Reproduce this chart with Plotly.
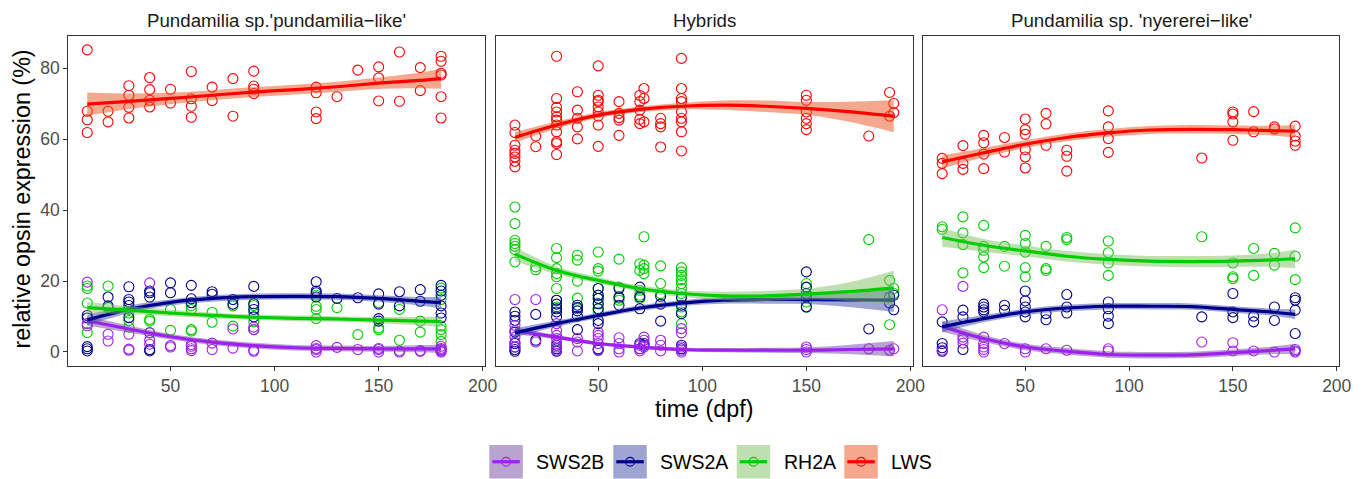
import plotly.graph_objects as go

# page geometry: the page body adds an 8px margin, so the figure is placed at (8, 8)
PAGE_W, PAGE_H, OFF = 1369, 479, 8
W, H = PAGE_W - OFF, PAGE_H - OFF

# ---------------- data ----------------
OPSINS = ["SWS2B", "SWS2A", "RH2A", "LWS"]
PANEL_TITLES = ["Pundamilia sp.'pundamilia\u2212like'", "Hybrids", "Pundamilia sp. 'nyererei\u2212like'"]
X_TICKS = [50, 100, 150, 200]
Y_TICKS = [0, 20, 40, 60, 80]

# Panel 1: pundamilia-like
P1_DAYS = [10, 20, 30, 40, 50, 60, 70, 80, 90, 120, 130, 140, 150, 160, 170, 180]
P1_LWS = [[85.2, 67.9, 65.5, 61.9], [67.9, 64.9], [75.1, 72.4, 69.0, 66.0], [77.4, 74.0, 71.0, 69.1],
          [74.1, 70.2], [79.1, 71.4, 69.3, 66.2], [74.7, 70.9], [77.1, 66.5], [79.2, 75.0, 74.1, 72.9],
          [74.7, 73.1, 67.7, 65.8], [72.0], [79.5], [80.4, 77.3, 70.8], [84.6, 70.7], [80.2, 73.7],
          [83.4, 82.0, 78.6, 78.1, 72.0, 66.0]]
P1_SWS2A = [[10.3, 9.6, 1.5, 0.9, 0.3], [15.5, 13.0], [18.4, 14.8, 14.1, 13.1, 9.7], [17.2, 16.7, 15.5, 0.7, 0.3],
            [19.5, 16.7], [18.8, 15.0, 13.9], [17.0, 16.3], [14.8, 13.5], [18.5, 13.6, 12.0, 9.9],
            [19.8, 17.2, 16.7, 15.5], [15.1], [15.3], [16.4, 13.5, 9.4, 8.7], [17.0, 13.0], [17.6, 14.3],
            [18.8, 17.2, 16.0, 13.0, 11.0, 9.6]]
P1_RH2A = [[18.6, 17.9, 13.8, 5.5], [18.6, 12.5], [12.0, 11.0, 8.9, 7.0], [9.2, 8.7, 5.5], [12.0, 6.1],
           [13.1, 12.0, 6.3, 5.9], [11.2, 8.4], [13.0, 7.3], [13.1, 11.0, 8.5, 6.3], [16.0, 12.9, 12.0, 9.4],
           [12.5], [4.9], [13.9, 6.8, 6.3], [12.0, 3.3], [8.7, 5.6], [18.0, 14.8, 7.3, 6.3, 4.9, 3.0]]
P1_SWS2B = [[19.7, 8.0, 7.4], [5.0, 3.1], [5.0, 0.8, 0.5], [19.5, 5.4, 3.3, 2.2], [1.8, 1.4],
            [2.1, 1.6, 0.9, 0.4], [2.5, 0.7], [6.5, 1.1], [7.0, 6.3, 0.5, 0.2], [1.8, 1.0, 0.7, 0.0],
            [1.3], [0.7], [1.0, 0.7, 0.0], [0.3, 0.0], [0.4, 0.2], [1.6, 1.0, 0.7, 0.5, 0.2, 0.0]]

# Panel 2: hybrids
P2_DAYS = [10, 20, 30, 40, 50, 60, 70, 72, 80, 90, 150, 180, 190, 192]
P2_LWS = [[64.0, 61.9, 58.3, 56.9, 56.0, 55.0, 53.8, 52.2], [60.9, 57.9],
          [83.4, 71.5, 69.0, 67.7, 66.3, 65.4, 64.0, 62.1, 59.3, 58.8, 55.7], [73.4, 68.2, 65.9, 63.5, 60.1],
          [80.7, 72.4, 71.0, 70.6, 69.1, 67.7, 66.5, 64.0, 58.0], [70.6, 67.3, 66.1, 65.4, 61.1],
          [72.4, 70.6, 68.2, 65.6, 64.4], [74.3, 71.5, 64.9], [65.9, 64.4, 63.5, 57.8],
          [82.8, 74.3, 71.5, 70.6, 67.7, 65.9, 64.9, 62.1, 56.7], [72.4, 71.0, 67.7, 65.9, 64.4, 62.7],
          [60.9], [73.2, 66.5], [70.1, 67.5]]
P2_RH2A = [[40.9, 36.2, 31.5, 30.6, 29.8, 28.9, 25.4], [24.0, 23.2], [29.2, 26.6, 23.5, 22.1, 21.2, 17.9, 14.6, 12.7],
           [27.3, 25.9, 20.0, 15.2, 12.2], [28.2, 23.5, 22.8, 17.9, 16.0, 15.1, 13.6, 12.2, 11.3],
           [26.2, 18.3, 15.2, 14.6], [24.9, 23.0, 17.4, 16.0, 15.1], [32.5, 24.5, 23.5, 22.1], [24.3, 19.3, 16.5],
           [23.8, 22.6, 21.6, 20.4, 19.3, 17.9, 16.5, 15.1, 12.7, 11.3, 8.0], [19.3, 18.2, 15.5, 14.1, 12.7],
           [31.7], [20.2, 7.7], [17.9, 16.5]]
P2_SWS2A = [[11.3, 10.1, 8.9, 5.6, 2.4, 1.4, 0.7, 0.2], [10.6, 3.3], [14.6, 13.5, 12.2, 11.3, 9.9, 1.9, 0.9, 0.2],
            [13.2, 12.5, 11.6, 10.1, 6.3], [17.9, 16.0, 15.1, 13.6, 12.2, 8.9, 8.0, 0.9, 0.5], [17.9, 15.5, 13.2],
            [18.3, 15.5, 12.2, 2.4, 0.9], [2.4, 1.9], [15.7, 13.5, 8.7], [15.5, 13.2, 10.8, 1.9, 0.9],
            [22.6, 18.3, 16.5, 15.5, 12.7], [6.5], [15.5, 13.8], [16.0, 11.9]]
P2_SWS2B = [[14.8, 7.5, 6.1, 4.2, 2.8, 1.4], [14.8, 2.8], [8.0, 6.1, 4.7, 3.8, 2.4, 1.4, 0.5], [3.8, 2.8, 0.3],
            [5.6, 4.7, 3.8, 2.4, 0.7], [4.0, 2.4, 0.9, 0.0], [1.9, 0.9, 0.3], [4.2, 3.3, 1.4], [3.3, 1.9, 0.3],
            [6.6, 5.4, 1.4, 0.5, 0.0], [1.4, 0.7, 0.0], [0.9], [0.5], [0.9]]

# Panel 3: nyererei-like
P3_DAYS = [10, 20, 30, 40, 50, 60, 70, 90, 135, 150, 160, 170, 180]
P3_LWS = [[54.6, 53.2, 50.3], [58.2, 53.2, 51.5], [61.1, 59.0, 55.8, 51.7], [60.5, 56.4],
          [65.7, 62.7, 61.4, 57.1, 55.0, 51.9], [67.3, 64.3, 58.3], [56.9, 55.2, 51.0], [68.0, 63.5, 60.2, 56.3],
          [54.7], [67.7, 67.1, 64.9, 59.7], [67.8, 62.1], [63.5, 62.9], [63.7, 60.9, 59.5, 58.3]]
P3_RH2A = [[35.3, 34.6], [38.1, 33.6, 30.3, 22.3], [35.7, 29.8, 28.7, 26.8, 23.8], [29.8, 24.2],
           [32.9, 30.6, 28.2, 23.8, 21.2], [29.8, 23.5, 23.0], [32.3, 31.7], [31.3, 28.0, 25.1, 21.6],
           [32.5], [25.1, 21.2, 20.7], [29.2, 21.6], [27.8, 24.5], [35.0, 27.0, 20.4]]
P3_SWS2A = [[8.5, 2.4, 1.2, 0.2], [11.8, 9.9, 0.7], [13.5, 12.7, 11.9, 11.3], [13.2, 11.8],
            [17.2, 14.4, 12.7, 11.3, 9.9], [10.8, 9.1], [16.2, 12.7, 11.0], [14.1, 12.2, 10.1, 8.0],
            [9.9], [16.5, 11.3, 9.7], [10.1, 8.5], [12.7, 8.9], [15.3, 14.6, 11.8, 5.2]]
P3_SWS2B = [[11.9, 0.5], [18.5, 4.2, 3.5, 2.5], [4.2, 2.4, 1.4, 0.7, 0.0], [2.4], [0.9, 0.0], [0.9], [0.5],
            [0.9, 0.3], [2.8], [2.6, 0.3], [0.3], [0.0], [0.7, 0.3, 0.0]]

# Smoothed fits (loess curve and half-width of its confidence band)
P1_FIT_DAYS = [10, 30, 50, 70, 90, 110, 130, 150, 170, 180]
P1_FIT_LWS = [69.9, 70.7, 71.5, 72.4, 73.3, 74.0, 74.8, 75.8, 76.6, 77.1]
P1_SE_LWS = [3.3, 2.2, 1.6, 1.4, 1.4, 1.4, 1.4, 1.6, 2.2, 2.8]
P1_FIT_RH2A = [12.5, 11.8, 11.0, 10.3, 9.8, 9.5, 9.3, 9.0, 8.7, 8.6]
P1_SE_RH2A = [1.6, 1.1, 0.9, 0.8, 0.8, 0.8, 0.8, 0.9, 1.2, 1.5]
P1_FIT_SWS2A = [9.0, 12.0, 14.0, 15.1, 15.6, 15.7, 15.6, 15.1, 14.3, 13.9]
P1_SE_SWS2A = [1.5, 1.1, 0.9, 0.9, 0.9, 0.9, 0.9, 0.9, 1.2, 1.6]
P1_FIT_SWS2B = [8.8, 6.5, 4.3, 2.8, 1.8, 1.2, 1.0, 0.9, 0.9, 0.9]
P1_SE_SWS2B = [1.3, 1.0, 0.8, 0.8, 0.8, 0.8, 0.8, 0.8, 1.0, 1.2]

P2_FIT_DAYS = [10, 30, 50, 70, 90, 110, 130, 150, 170, 192]
P2_FIT_LWS = [60.5, 64.0, 66.8, 68.4, 69.3, 69.6, 69.3, 68.7, 67.8, 66.5]
P2_SE_LWS = [1.5, 1.0, 0.8, 0.8, 0.9, 1.3, 1.6, 1.8, 2.8, 4.5]
P2_FIT_RH2A = [27.6, 23.0, 20.2, 17.9, 16.5, 15.8, 15.8, 16.3, 17.0, 18.1]
P2_SE_RH2A = [2.0, 1.1, 0.9, 0.9, 0.9, 1.2, 1.4, 1.6, 2.6, 4.8]
P2_FIT_SWS2A = [5.4, 8.0, 10.3, 12.4, 13.8, 14.6, 14.8, 14.8, 14.7, 14.6]
P2_SE_SWS2A = [1.3, 0.9, 0.8, 0.8, 0.8, 1.0, 1.2, 1.3, 2.0, 3.3]
P2_FIT_SWS2B = [6.0, 4.2, 2.4, 1.4, 0.7, 0.5, 0.5, 0.5, 0.7, 0.9]
P2_SE_SWS2B = [1.0, 0.6, 0.5, 0.5, 0.5, 0.6, 0.7, 0.8, 1.3, 2.2]

P3_FIT_DAYS = [10, 30, 50, 70, 90, 110, 130, 150, 170, 180]
P3_FIT_LWS = [53.6, 56.2, 58.6, 60.5, 61.8, 62.6, 62.8, 62.7, 62.4, 62.3]
P3_SE_LWS = [1.8, 1.3, 1.1, 1.1, 1.1, 1.1, 1.2, 1.2, 1.4, 1.8]
P3_FIT_RH2A = [32.3, 30.1, 28.5, 27.0, 26.1, 25.6, 25.5, 25.6, 26.0, 26.3]
P3_SE_RH2A = [2.6, 1.8, 1.5, 1.5, 1.5, 1.5, 1.6, 1.6, 2.0, 2.6]
P3_FIT_SWS2A = [7.1, 9.4, 11.3, 12.4, 12.9, 12.9, 12.8, 12.0, 11.2, 10.6]
P3_SE_SWS2A = [1.5, 1.0, 0.9, 0.9, 0.9, 0.9, 0.9, 0.9, 1.0, 1.4]
P3_FIT_SWS2B = [7.2, 3.8, 1.4, 0.2, -0.7, -0.9, -0.8, -0.2, 0.5, 0.9]
P3_SE_SWS2B = [1.5, 1.0, 0.9, 0.9, 0.9, 0.9, 0.9, 0.9, 1.1, 1.4]

# ---------------- styling ----------------
FONT = "Liberation Sans, Arial, Helvetica, sans-serif"
LINE_COL = {"SWS2B": "#A020F0", "SWS2A": "#00008B", "RH2A": "#00CD00", "LWS": "#FF0000"}
RIBBON_COL = {"SWS2B": "rgba(115,71,159,0.5)", "SWS2A": "rgba(61,75,169,0.5)",
              "RH2A": "rgba(125,193,97,0.5)", "LWS": "rgba(237,81,29,0.5)"}
KEY_FILL = {"SWS2B": "#B9A3CF", "SWS2A": "#9EA5D4", "RH2A": "#BEE0B0", "LWS": "#F6A88E"}

panels = [
    dict(days=P1_DAYS, pts={"SWS2B": P1_SWS2B, "SWS2A": P1_SWS2A, "RH2A": P1_RH2A, "LWS": P1_LWS},
         fit_days=P1_FIT_DAYS,
         fit={"SWS2B": (P1_FIT_SWS2B, P1_SE_SWS2B), "SWS2A": (P1_FIT_SWS2A, P1_SE_SWS2A),
              "RH2A": (P1_FIT_RH2A, P1_SE_RH2A), "LWS": (P1_FIT_LWS, P1_SE_LWS)}),
    dict(days=P2_DAYS, pts={"SWS2B": P2_SWS2B, "SWS2A": P2_SWS2A, "RH2A": P2_RH2A, "LWS": P2_LWS},
         fit_days=P2_FIT_DAYS,
         fit={"SWS2B": (P2_FIT_SWS2B, P2_SE_SWS2B), "SWS2A": (P2_FIT_SWS2A, P2_SE_SWS2A),
              "RH2A": (P2_FIT_RH2A, P2_SE_RH2A), "LWS": (P2_FIT_LWS, P2_SE_LWS)}),
    dict(days=P3_DAYS, pts={"SWS2B": P3_SWS2B, "SWS2A": P3_SWS2A, "RH2A": P3_RH2A, "LWS": P3_LWS},
         fit_days=P3_FIT_DAYS,
         fit={"SWS2B": (P3_FIT_SWS2B, P3_SE_SWS2B), "SWS2A": (P3_FIT_SWS2A, P3_SE_SWS2A),
              "RH2A": (P3_FIT_RH2A, P3_SE_RH2A), "LWS": (P3_FIT_LWS, P3_SE_LWS)}),
]

# panel geometry in page pixels
PANEL_X = [(68.3, 485.0), (496.0, 912.7), (923.3, 1339.0)]
PANEL_TOP, PANEL_BOTTOM = 35.7, 366.0
X_RANGE = [0.9, 201.1]
Y_RANGE = [-3.95, 89.2]


def px(x):
    return (x - OFF) / W


def py(y):
    return 1 - (y - OFF) / H


def flatten(days, groups):
    xs, ys = [], []
    for d, g in zip(days, groups):
        for v in g:
            xs.append(d)
            ys.append(v)
    return xs, ys


fig = go.Figure()

for i, p in enumerate(panels):
    xa = "x" if i == 0 else f"x{i + 1}"
    ya = "y" if i == 0 else f"y{i + 1}"
    for op in ["LWS", "RH2A", "SWS2A", "SWS2B"]:
        xs, ys = flatten(p["days"], p["pts"][op])
        fig.add_trace(go.Scatter(
            x=xs, y=ys, mode="markers", xaxis=xa, yaxis=ya, showlegend=False, hoverinfo="skip",
            marker=dict(symbol="circle-open", size=10, color=LINE_COL[op], line=dict(width=1.1))))
    for op in OPSINS:
        fit, se = p["fit"][op]
        upper = [f + s for f, s in zip(fit, se)]
        lower = [f - s for f, s in zip(fit, se)]
        fig.add_trace(go.Scatter(x=p["fit_days"], y=upper, mode="lines", xaxis=xa, yaxis=ya,
                                 line=dict(width=0, shape="spline"), showlegend=False, hoverinfo="skip"))
        fig.add_trace(go.Scatter(x=p["fit_days"], y=lower, mode="lines", xaxis=xa, yaxis=ya,
                                 line=dict(width=0, shape="spline"), fill="tonexty",
                                 fillcolor=RIBBON_COL[op], showlegend=False, hoverinfo="skip"))
        fig.add_trace(go.Scatter(x=p["fit_days"], y=fit, mode="lines", xaxis=xa, yaxis=ya,
                                 line=dict(width=3.2, color=LINE_COL[op], shape="spline"),
                                 showlegend=False, hoverinfo="skip"))

axis_common = dict(showgrid=False, zeroline=False, showline=True, linecolor="#333333", linewidth=1.2,
                   mirror=True, ticks="outside", ticklen=4, tickwidth=1.1, tickcolor="#333333",
                   automargin=False,
                   tickfont=dict(family=FONT, size=17.5, color="#4D4D4D"))

layout = dict(width=W, height=H, margin=dict(l=0, r=0, t=0, b=0, autoexpand=False),
              paper_bgcolor="white", plot_bgcolor="white", showlegend=False,
              font=dict(family=FONT))
y_dom = [py(PANEL_BOTTOM), py(PANEL_TOP)]
for i, (x0, x1) in enumerate(PANEL_X):
    suffix = "" if i == 0 else str(i + 1)
    layout["xaxis" + suffix] = dict(axis_common, domain=[px(x0), px(x1)], range=X_RANGE,
                                    tickvals=X_TICKS, anchor="y" + suffix)
    yax = dict(axis_common, domain=y_dom, range=Y_RANGE, tickvals=Y_TICKS, anchor="x" + suffix)
    if i > 0:
        yax.update(showticklabels=False, ticks="")
    layout["yaxis" + suffix] = yax
fig.update_layout(**layout)

# strip titles
for (x0, x1), title in zip(PANEL_X, PANEL_TITLES):
    fig.add_annotation(x=px((x0 + x1) / 2), y=py(20.5), xref="paper", yref="paper", text=title,
                       showarrow=False, xanchor="center", yanchor="middle",
                       font=dict(family=FONT, size=18.7, color="#1A1A1A"))

# axis titles
fig.add_annotation(x=px(704), y=py(409), xref="paper", yref="paper", text="time (dpf)",
                   showarrow=False, xanchor="center", yanchor="middle",
                   font=dict(family=FONT, size=23.3, color="black"))
fig.add_annotation(x=px(21.5), y=py(199), xref="paper", yref="paper", text="relative opsin expression (%)",
                   showarrow=False, xanchor="center", yanchor="middle", textangle=-90,
                   font=dict(family=FONT, size=23.3, color="black"))

# legend (keys: ribbon box + line + open circle)
KEY_LEFT = [489.3, 613.3, 736.7, 844.3]
KEY_TOP, KEY_SIZE = 445.0, 33.5
for op, kx in zip(OPSINS, KEY_LEFT):
    cy = KEY_TOP + KEY_SIZE / 2
    fig.add_shape(type="rect", xref="paper", yref="paper", x0=px(kx), x1=px(kx + KEY_SIZE),
                  y0=py(KEY_TOP + KEY_SIZE), y1=py(KEY_TOP),
                  fillcolor=KEY_FILL[op], line=dict(width=0), layer="above")
    fig.add_shape(type="line", xref="paper", yref="paper", x0=px(kx + 3), x1=px(kx + KEY_SIZE - 3),
                  y0=py(cy), y1=py(cy), line=dict(color=LINE_COL[op], width=3.2), layer="above")
    r = 4.4
    fig.add_shape(type="circle", xref="paper", yref="paper",
                  x0=px(kx + KEY_SIZE / 2 - r), x1=px(kx + KEY_SIZE / 2 + r),
                  y0=py(cy + r), y1=py(cy - r),
                  line=dict(color=LINE_COL[op], width=1.1), layer="above")
    fig.add_annotation(x=px(kx + KEY_SIZE + 11.5), y=py(cy), xref="paper", yref="paper", text=op,
                       showarrow=False, xanchor="left", yanchor="middle",
                       font=dict(family=FONT, size=19.5, color="black"))

fig.write_html("out.html")
